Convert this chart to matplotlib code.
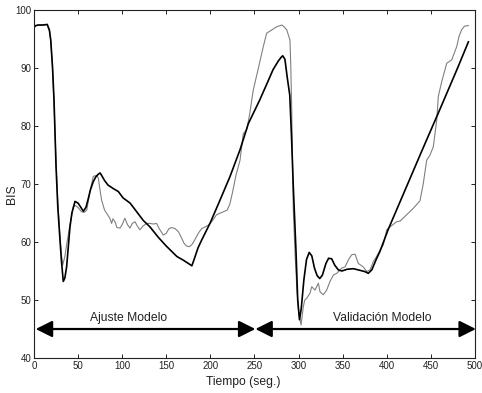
import matplotlib
matplotlib.use("Agg")
import matplotlib.pyplot as plt
from matplotlib.patches import FancyArrowPatch

plt.rcParams['font.family'] = ['Liberation Sans', 'DejaVu Sans']

# Model output (black)
t_model = [0, 2, 5, 10, 15, 17.5, 19, 21, 22.7, 25, 27, 29.5, 31, 33.2, 35, 37, 40.8, 43,
           46.5, 50, 53, 56, 59, 61.6, 64, 67.2, 70, 73, 75, 77, 80, 84, 90, 95.6, 101, 109,
           116, 124, 131.5, 141, 150, 162, 170, 175, 179, 182, 186, 190, 199.5, 210, 222,
           233.6, 243, 256, 265, 271, 277, 280, 282, 284.5, 287, 290, 292, 294, 297, 299,
           301, 303, 306, 309, 312, 315, 318, 321, 324, 327, 331, 334, 337.5, 341, 345, 349,
           355, 362, 370, 375, 379, 383, 388, 392, 401.7, 420, 440, 460, 480, 492.5]
bis_model = [97.0, 97.3, 97.4, 97.4, 97.5, 96.5, 94.8, 90.2, 84.5, 73, 66, 60.3, 57, 53.2,
             53.8, 55.7, 62.6, 65, 67, 66.7, 66, 65.3, 66, 67.5, 69, 70.4, 71.2, 71.7, 71.9,
             71.4, 70.6, 69.8, 69.2, 68.7, 67.6, 66.7, 65.3, 63.7, 62.6, 60.8, 59.3, 57.5,
             56.8, 56.3, 55.9, 57.2, 59, 60.3, 63.2, 66.9, 71.2, 75.9, 80.4, 84.5, 87.6, 89.7,
             91.2, 91.8, 92.1, 91.5, 88.5, 85.3, 78, 69.5, 58.6, 50, 46.6, 48.5, 53.5, 57,
             58.2, 57.6, 55.5, 54.2, 53.7, 54.3, 56.3, 57.2, 57.1, 56, 55.2, 55.0, 55.3, 55.4,
             55.1, 54.9, 54.6, 55.2, 57, 58.3, 62.2, 68.7, 75.8, 82.8, 89.9, 94.5]

# Measured BIS (gray)
t_meas = [0, 2, 5, 10, 15, 17.5, 19, 21, 22.7, 25, 27, 29.5, 31, 32.5, 35, 37, 40.8, 44.6,
          47, 50.2, 54, 57, 59.8, 63.5, 67.2, 71, 73, 74.8, 76.7, 80, 86, 88, 89.5, 91.8, 94,
          97.5, 100, 103, 106, 108.8, 111.5, 114.5, 117, 120, 124, 127.7, 131.5, 135.3, 139,
          142, 146.6, 150, 153, 156, 160, 163.6, 167, 170, 173, 176, 178.8, 182, 186.3, 190,
          194, 197.6, 201.5, 207, 214.6, 219, 222, 225, 229, 233.6, 237.3, 241.1, 244.5,
          248.6, 254.3, 260, 263.8, 269, 275.2, 279, 281, 283.5, 286.5, 290.2, 291.2, 292.2,
          294, 296, 298, 300, 302.8, 305.3, 307, 309.2, 313, 314.9, 318.6, 322.4, 324.3, 328,
          331.8, 335.6, 339.4, 343.2, 348.9, 352.6, 356.4, 360.2, 364, 367.7, 373.4, 377.2,
          381, 384.7, 388.4, 392.3, 396, 399.9, 403.6, 411.2, 415, 422.5, 430, 437.6, 441.4,
          445.2, 449, 452.7, 456.6, 458.4, 462.2, 467.9, 473.6, 479.3, 482, 484.9, 488, 492.5]
bis_meas = [97.0, 97.3, 97.4, 97.4, 97.5, 96.5, 94.8, 90, 84, 74, 67, 61, 58, 56, 57.5, 59.5,
            63, 66.1, 66.3, 65.9, 65.2, 65.1, 65.5, 68.7, 71.3, 71.5, 71, 69, 67.2, 65.5, 64.1,
            63.2, 64, 63.5, 62.5, 62.4, 63, 64.1, 63, 62.4, 63.2, 63.5, 62.8, 62.1, 62.8, 63.2,
            63.2, 63.1, 63.2, 62.3, 61.2, 61.5, 62.3, 62.5, 62.3, 61.8, 60.8, 59.8, 59.3, 59.2,
            59.5, 60.3, 61.5, 62.3, 62.6, 62.9, 63.5, 64.7, 65.2, 65.5, 66.5, 68.5, 71.5, 74.1,
            78.7, 79.3, 82, 86.2, 89.9, 93.7, 96.0, 96.5, 97.1, 97.3, 97.4, 97.1, 96.6, 94.8,
            90, 82.8, 65.5, 58, 52, 48, 45.7, 48.8, 50, 50.3, 51.2, 52.3, 51.7, 52.9, 51.4,
            50.9, 51.7, 53.2, 54.3, 54.6, 55.5, 55.7, 56.9, 57.8, 57.9, 56.3, 55.7, 54.9, 55.2,
            56.6, 57.5, 58.6, 59.5, 62.1, 62.6, 63.5, 63.6, 64.7, 65.8, 67.1, 70.1, 74.1, 75,
            76.4, 81, 85.1, 87.6, 90.8, 91.4, 93.7, 95.5, 96.6, 97.2, 97.3]

x_ticks = [0, 50, 100, 150, 200, 250, 300, 350, 400, 450, 500]
y_ticks = [40, 50, 60, 70, 80, 90, 100]

phases = ["Ajuste Modelo", "Validación Modelo"]
phase_start = [2, 251]
phase_end = [251, 501]
phase_label_x = [107, 395]

fig = plt.figure(figsize=(4.82, 3.93), dpi=100)
ax = fig.add_axes([0.0705, 0.089, 0.915, 0.8857])

ax.plot(t_meas, bis_meas, color='#808080', lw=0.8)
ax.plot(t_model, bis_model, color='black', lw=1.2)

for s, e, lab, lx in zip(phase_start, phase_end, phases, phase_label_x):
    arr = FancyArrowPatch((s, 45), (e, 45),
                          arrowstyle='<|-|>,head_length=10,head_width=5',
                          mutation_scale=1, color='black', lw=1.6,
                          shrinkA=0, shrinkB=0)
    ax.add_patch(arr)
    ax.text(lx, 46.45, lab, ha='center', va='baseline', fontsize=8.7, color='#222222')

ax.set_xlim(0, 500)
ax.set_ylim(40, 100)
ax.set_xticks(x_ticks)
ax.set_yticks(y_ticks)
ax.tick_params(direction='in', length=3, width=0.7, top=True, right=True,
               labelsize=7, pad=2, colors='#222222')
for sp in ax.spines.values():
    sp.set_linewidth(0.8)
    sp.set_color('#222222')

ax.set_xlabel('Tiempo (seg.)', fontsize=8.7, color='#222222')
ax.xaxis.set_label_coords(0.474, -0.052)
ax.set_ylabel('BIS', fontsize=8.7, color='#222222')
ax.yaxis.set_label_coords(-0.036, 0.47)

fig.savefig('out.png', dpi=100)
